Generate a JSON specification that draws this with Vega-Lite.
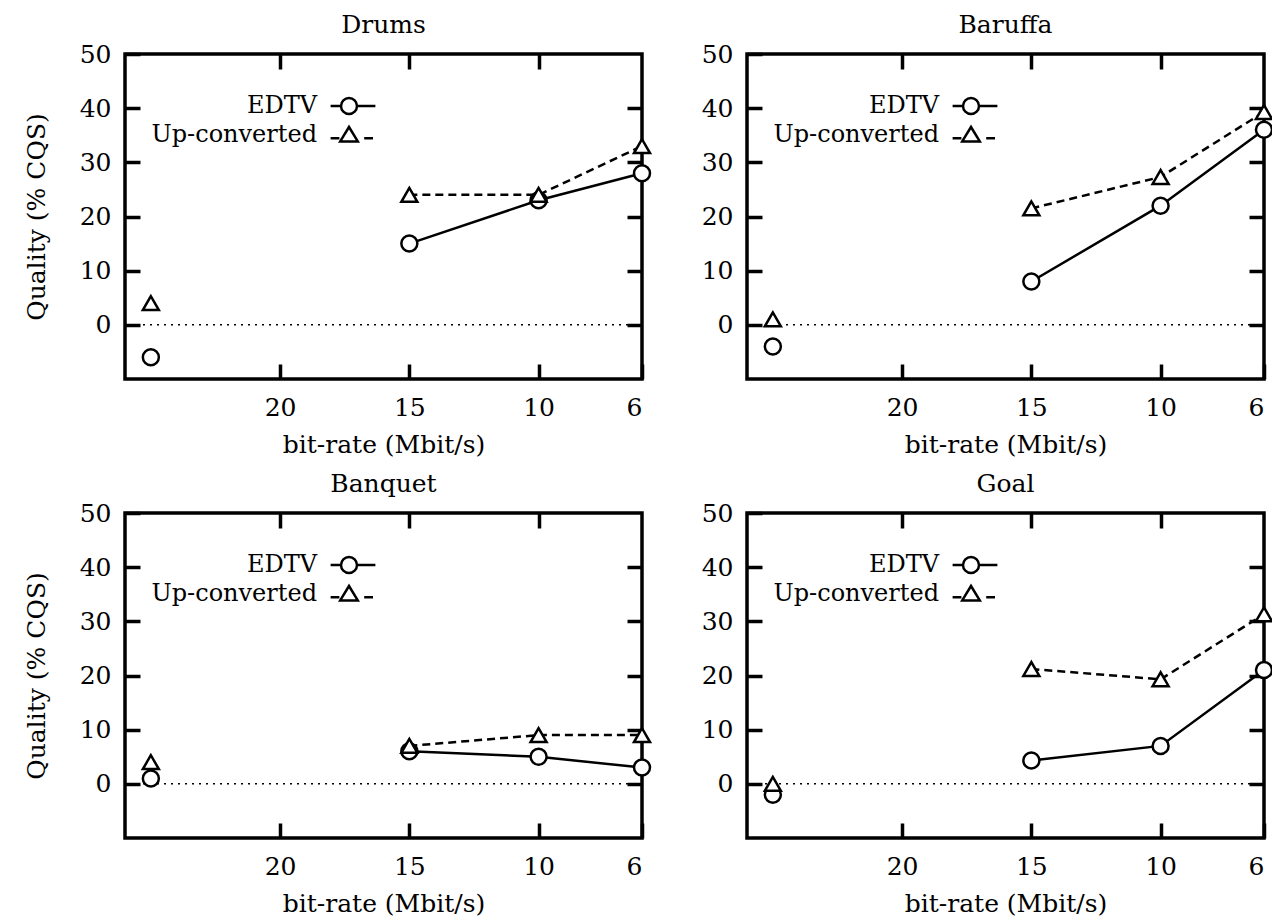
{
  "$schema": "https://vega.github.io/schema/vega-lite/v6.json",
  "padding": {"left": 22, "top": 11, "right": 0, "bottom": 0},
  "background": "white",
  "datasets": {
    "d": [
      {"panel": "Drums", "series": "EDTV", "rate": 25, "q": -6},
      {"panel": "Drums", "series": "EDTV", "rate": 15, "q": 15},
      {"panel": "Drums", "series": "EDTV", "rate": 10, "q": 23},
      {"panel": "Drums", "series": "EDTV", "rate": 6, "q": 28},
      {"panel": "Drums", "series": "Up-converted", "rate": 25, "q": 4},
      {"panel": "Drums", "series": "Up-converted", "rate": 15, "q": 24},
      {"panel": "Drums", "series": "Up-converted", "rate": 10, "q": 24},
      {"panel": "Drums", "series": "Up-converted", "rate": 6, "q": 33},
      {"panel": "Baruffa", "series": "EDTV", "rate": 25, "q": -4},
      {"panel": "Baruffa", "series": "EDTV", "rate": 15, "q": 8},
      {"panel": "Baruffa", "series": "EDTV", "rate": 10, "q": 22},
      {"panel": "Baruffa", "series": "EDTV", "rate": 6, "q": 36},
      {"panel": "Baruffa", "series": "Up-converted", "rate": 25, "q": 1},
      {"panel": "Baruffa", "series": "Up-converted", "rate": 15, "q": 21.5},
      {"panel": "Baruffa", "series": "Up-converted", "rate": 10, "q": 27.3},
      {"panel": "Baruffa", "series": "Up-converted", "rate": 6, "q": 39.3},
      {"panel": "Banquet", "series": "EDTV", "rate": 25, "q": 1},
      {"panel": "Banquet", "series": "EDTV", "rate": 15, "q": 6},
      {"panel": "Banquet", "series": "EDTV", "rate": 10, "q": 5},
      {"panel": "Banquet", "series": "EDTV", "rate": 6, "q": 3},
      {"panel": "Banquet", "series": "Up-converted", "rate": 25, "q": 4},
      {"panel": "Banquet", "series": "Up-converted", "rate": 15, "q": 7},
      {"panel": "Banquet", "series": "Up-converted", "rate": 10, "q": 9},
      {"panel": "Banquet", "series": "Up-converted", "rate": 6, "q": 9},
      {"panel": "Goal", "series": "EDTV", "rate": 25, "q": -2},
      {"panel": "Goal", "series": "EDTV", "rate": 15, "q": 4.3},
      {"panel": "Goal", "series": "EDTV", "rate": 10, "q": 7},
      {"panel": "Goal", "series": "EDTV", "rate": 6, "q": 21},
      {"panel": "Goal", "series": "Up-converted", "rate": 25, "q": 0},
      {"panel": "Goal", "series": "Up-converted", "rate": 15, "q": 21.2},
      {"panel": "Goal", "series": "Up-converted", "rate": 10, "q": 19.3},
      {"panel": "Goal", "series": "Up-converted", "rate": 6, "q": 31.3}
    ],
    "zero": [{"z": 0}]
  },
  "config": {
    "view": {"stroke": "black", "strokeWidth": 3.5},
    "font": "DejaVu Serif",
    "axis": {
      "domain": false, "grid": false,
      "labelFont": "DejaVu Serif", "labelFontSize": 25, "labelColor": "black",
      "titleFont": "DejaVu Serif", "titleFontSize": 25, "titleFontWeight": "normal", "titleColor": "black",
      "tickColor": "black", "tickWidth": 3.5, "tickSize": -15
    },
    "title": {"font": "DejaVu Serif", "fontSize": 25, "fontWeight": "normal", "color": "black", "offset": 0},
    "legend": {
      "orient": "none", "title": null, "padding": 0,
      "labelFont": "DejaVu Serif", "labelFontSize": 24, "labelColor": "black", "labelLimit": 0,
      "labelAlign": "right", "labelOffset": -44, "rowPadding": 3,
      "symbolSize": 256, "symbolStrokeColor": "black", "symbolStrokeWidth": 2.5
    }
  },
  "columns": 2,
  "spacing": {"row": 11, "column": 42},
  "resolve": {"scale": {"shape": "independent"}, "legend": {"shape": "independent"}},
  "concat": [
    {
      "width": 517, "height": 325, "title": "Drums",
      "data": {"name": "d"},
      "transform": [{"filter": "datum.panel === 'Drums'"}],
      "resolve": {"axis": {"x": "independent", "y": "independent"}},
      "layer": [
        {"data": {"name": "zero"}, "transform": [], "mark": {"type": "rule", "strokeDash": [2, 5], "strokeWidth": 1.5, "color": "black"},
          "encoding": {"y": {"field": "z", "type": "quantitative", "scale": {"domain": [-10, 50]}, "axis": {"orient": "right", "labels": false, "title": null, "values": [0, 10, 20, 30, 40]}}}},
        {"transform": [{"filter": "datum.rate <= 15 && datum.series === 'EDTV'"}], "mark": {"type": "line", "strokeWidth": 2.5, "color": "black"},
          "encoding": {
            "x": {"field": "rate", "type": "quantitative", "scale": {"domain": [6, 25], "reverse": true}, "axis": {"orient": "top", "labels": false, "title": null, "values": [20, 15, 10]}},
            "y": {"field": "q", "type": "quantitative", "axis": null}}},
        {"transform": [{"filter": "datum.rate <= 15 && datum.series === 'Up-converted'"}], "mark": {"type": "line", "strokeWidth": 2.5, "color": "black", "strokeDash": [8, 5]},
          "encoding": {"x": {"field": "rate", "type": "quantitative", "axis": null}, "y": {"field": "q", "type": "quantitative", "axis": null}}},
        {"transform": [{"filter": "datum.series === 'EDTV'"}], "mark": {"type": "point", "shape": "circle", "filled": true, "fill": "white", "stroke": "black", "strokeWidth": 2.5, "size": 256, "opacity": 1},
          "encoding": {
            "x": {"field": "rate", "type": "quantitative", "axis": {"orient": "bottom", "title": "bit-rate (Mbit/s)", "values": [20, 15, 10, 6], "labelPadding": 31, "titlePadding": 12}},
            "y": {"field": "q", "type": "quantitative", "axis": {"orient": "left", "title": "Quality (% CQS)", "values": [0, 10, 20, 30, 40, 50], "labelPadding": 29, "titlePadding": 30}}}},
        {"transform": [{"filter": "datum.series === 'Up-converted'"}], "mark": {"type": "point", "shape": "triangle-up", "filled": true, "fill": "white", "stroke": "black", "strokeWidth": 2.5, "size": 256, "opacity": 1},
          "encoding": {"x": {"field": "rate", "type": "quantitative", "axis": null}, "y": {"field": "q", "type": "quantitative", "axis": null}}},
        {"transform": [{"filter": "false"}], "mark": {"type": "point", "filled": false, "color": "black", "strokeWidth": 2.5, "size": 256, "opacity": 1},
          "encoding": {"shape": {"field": "series", "type": "nominal",
            "scale": {"domain": ["EDTV", "Up-converted"], "range": ["M-2.3,0H-1M1,0H3.3M1,0A1,1,0,1,1,-1,0A1,1,0,1,1,1,0", "M-2.3,0.4H-1.2M1.9,0.4H3M0,-1L1.1,0.8L-1.1,0.8Z"]},
            "legend": {"legendX": 212, "legendY": 40}}}}
      ]
    },
    {
      "width": 517, "height": 325, "title": "Baruffa",
      "data": {"name": "d"},
      "transform": [{"filter": "datum.panel === 'Baruffa'"}],
      "resolve": {"axis": {"x": "independent", "y": "independent"}},
      "layer": [
        {"data": {"name": "zero"}, "transform": [], "mark": {"type": "rule", "strokeDash": [2, 5], "strokeWidth": 1.5, "color": "black"},
          "encoding": {"y": {"field": "z", "type": "quantitative", "scale": {"domain": [-10, 50]}, "axis": {"orient": "right", "labels": false, "title": null, "values": [0, 10, 20, 30, 40]}}}},
        {"transform": [{"filter": "datum.rate <= 15 && datum.series === 'EDTV'"}], "mark": {"type": "line", "strokeWidth": 2.5, "color": "black"},
          "encoding": {
            "x": {"field": "rate", "type": "quantitative", "scale": {"domain": [6, 25], "reverse": true}, "axis": {"orient": "top", "labels": false, "title": null, "values": [20, 15, 10]}},
            "y": {"field": "q", "type": "quantitative", "axis": null}}},
        {"transform": [{"filter": "datum.rate <= 15 && datum.series === 'Up-converted'"}], "mark": {"type": "line", "strokeWidth": 2.5, "color": "black", "strokeDash": [8, 5]},
          "encoding": {"x": {"field": "rate", "type": "quantitative", "axis": null}, "y": {"field": "q", "type": "quantitative", "axis": null}}},
        {"transform": [{"filter": "datum.series === 'EDTV'"}], "mark": {"type": "point", "shape": "circle", "filled": true, "fill": "white", "stroke": "black", "strokeWidth": 2.5, "size": 256, "opacity": 1},
          "encoding": {
            "x": {"field": "rate", "type": "quantitative", "axis": {"orient": "bottom", "title": "bit-rate (Mbit/s)", "values": [20, 15, 10, 6], "labelPadding": 31, "titlePadding": 12}},
            "y": {"field": "q", "type": "quantitative", "axis": {"orient": "left", "title": null, "values": [0, 10, 20, 30, 40, 50], "labelPadding": 29}}}},
        {"transform": [{"filter": "datum.series === 'Up-converted'"}], "mark": {"type": "point", "shape": "triangle-up", "filled": true, "fill": "white", "stroke": "black", "strokeWidth": 2.5, "size": 256, "opacity": 1},
          "encoding": {"x": {"field": "rate", "type": "quantitative", "axis": null}, "y": {"field": "q", "type": "quantitative", "axis": null}}},
        {"transform": [{"filter": "false"}], "mark": {"type": "point", "filled": false, "color": "black", "strokeWidth": 2.5, "size": 256, "opacity": 1},
          "encoding": {"shape": {"field": "series", "type": "nominal",
            "scale": {"domain": ["EDTV", "Up-converted"], "range": ["M-2.3,0H-1M1,0H3.3M1,0A1,1,0,1,1,-1,0A1,1,0,1,1,1,0", "M-2.3,0.4H-1.2M1.9,0.4H3M0,-1L1.1,0.8L-1.1,0.8Z"]},
            "legend": {"legendX": 212, "legendY": 40}}}}
      ]
    },
    {
      "width": 517, "height": 325, "title": "Banquet",
      "data": {"name": "d"},
      "transform": [{"filter": "datum.panel === 'Banquet'"}],
      "resolve": {"axis": {"x": "independent", "y": "independent"}},
      "layer": [
        {"data": {"name": "zero"}, "transform": [], "mark": {"type": "rule", "strokeDash": [2, 5], "strokeWidth": 1.5, "color": "black"},
          "encoding": {"y": {"field": "z", "type": "quantitative", "scale": {"domain": [-10, 50]}, "axis": {"orient": "right", "labels": false, "title": null, "values": [0, 10, 20, 30, 40]}}}},
        {"transform": [{"filter": "datum.rate <= 15 && datum.series === 'EDTV'"}], "mark": {"type": "line", "strokeWidth": 2.5, "color": "black"},
          "encoding": {
            "x": {"field": "rate", "type": "quantitative", "scale": {"domain": [6, 25], "reverse": true}, "axis": {"orient": "top", "labels": false, "title": null, "values": [20, 15, 10]}},
            "y": {"field": "q", "type": "quantitative", "axis": null}}},
        {"transform": [{"filter": "datum.rate <= 15 && datum.series === 'Up-converted'"}], "mark": {"type": "line", "strokeWidth": 2.5, "color": "black", "strokeDash": [8, 5]},
          "encoding": {"x": {"field": "rate", "type": "quantitative", "axis": null}, "y": {"field": "q", "type": "quantitative", "axis": null}}},
        {"transform": [{"filter": "datum.series === 'EDTV'"}], "mark": {"type": "point", "shape": "circle", "filled": true, "fill": "white", "stroke": "black", "strokeWidth": 2.5, "size": 256, "opacity": 1},
          "encoding": {
            "x": {"field": "rate", "type": "quantitative", "axis": {"orient": "bottom", "title": "bit-rate (Mbit/s)", "values": [20, 15, 10, 6], "labelPadding": 31, "titlePadding": 12}},
            "y": {"field": "q", "type": "quantitative", "axis": {"orient": "left", "title": "Quality (% CQS)", "values": [0, 10, 20, 30, 40, 50], "labelPadding": 29, "titlePadding": 30}}}},
        {"transform": [{"filter": "datum.series === 'Up-converted'"}], "mark": {"type": "point", "shape": "triangle-up", "filled": true, "fill": "white", "stroke": "black", "strokeWidth": 2.5, "size": 256, "opacity": 1},
          "encoding": {"x": {"field": "rate", "type": "quantitative", "axis": null}, "y": {"field": "q", "type": "quantitative", "axis": null}}},
        {"transform": [{"filter": "false"}], "mark": {"type": "point", "filled": false, "color": "black", "strokeWidth": 2.5, "size": 256, "opacity": 1},
          "encoding": {"shape": {"field": "series", "type": "nominal",
            "scale": {"domain": ["EDTV", "Up-converted"], "range": ["M-2.3,0H-1M1,0H3.3M1,0A1,1,0,1,1,-1,0A1,1,0,1,1,1,0", "M-2.3,0.4H-1.2M1.9,0.4H3M0,-1L1.1,0.8L-1.1,0.8Z"]},
            "legend": {"legendX": 212, "legendY": 40}}}}
      ]
    },
    {
      "width": 517, "height": 325, "title": "Goal",
      "data": {"name": "d"},
      "transform": [{"filter": "datum.panel === 'Goal'"}],
      "resolve": {"axis": {"x": "independent", "y": "independent"}},
      "layer": [
        {"data": {"name": "zero"}, "transform": [], "mark": {"type": "rule", "strokeDash": [2, 5], "strokeWidth": 1.5, "color": "black"},
          "encoding": {"y": {"field": "z", "type": "quantitative", "scale": {"domain": [-10, 50]}, "axis": {"orient": "right", "labels": false, "title": null, "values": [0, 10, 20, 30, 40]}}}},
        {"transform": [{"filter": "datum.rate <= 15 && datum.series === 'EDTV'"}], "mark": {"type": "line", "strokeWidth": 2.5, "color": "black"},
          "encoding": {
            "x": {"field": "rate", "type": "quantitative", "scale": {"domain": [6, 25], "reverse": true}, "axis": {"orient": "top", "labels": false, "title": null, "values": [20, 15, 10]}},
            "y": {"field": "q", "type": "quantitative", "axis": null}}},
        {"transform": [{"filter": "datum.rate <= 15 && datum.series === 'Up-converted'"}], "mark": {"type": "line", "strokeWidth": 2.5, "color": "black", "strokeDash": [8, 5]},
          "encoding": {"x": {"field": "rate", "type": "quantitative", "axis": null}, "y": {"field": "q", "type": "quantitative", "axis": null}}},
        {"transform": [{"filter": "datum.series === 'EDTV'"}], "mark": {"type": "point", "shape": "circle", "filled": true, "fill": "white", "stroke": "black", "strokeWidth": 2.5, "size": 256, "opacity": 1},
          "encoding": {
            "x": {"field": "rate", "type": "quantitative", "axis": {"orient": "bottom", "title": "bit-rate (Mbit/s)", "values": [20, 15, 10, 6], "labelPadding": 31, "titlePadding": 12}},
            "y": {"field": "q", "type": "quantitative", "axis": {"orient": "left", "title": null, "values": [0, 10, 20, 30, 40, 50], "labelPadding": 29}}}},
        {"transform": [{"filter": "datum.series === 'Up-converted'"}], "mark": {"type": "point", "shape": "triangle-up", "filled": true, "fill": "white", "stroke": "black", "strokeWidth": 2.5, "size": 256, "opacity": 1},
          "encoding": {"x": {"field": "rate", "type": "quantitative", "axis": null}, "y": {"field": "q", "type": "quantitative", "axis": null}}},
        {"transform": [{"filter": "false"}], "mark": {"type": "point", "filled": false, "color": "black", "strokeWidth": 2.5, "size": 256, "opacity": 1},
          "encoding": {"shape": {"field": "series", "type": "nominal",
            "scale": {"domain": ["EDTV", "Up-converted"], "range": ["M-2.3,0H-1M1,0H3.3M1,0A1,1,0,1,1,-1,0A1,1,0,1,1,1,0", "M-2.3,0.4H-1.2M1.9,0.4H3M0,-1L1.1,0.8L-1.1,0.8Z"]},
            "legend": {"legendX": 212, "legendY": 40}}}}
      ]
    }
  ]
}
